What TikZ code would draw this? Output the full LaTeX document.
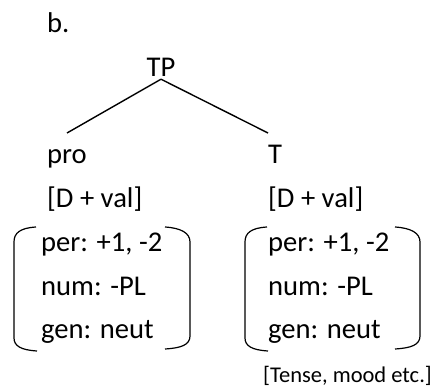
\documentclass[tikz,border=0pt]{standalone}
\usepackage{fontspec}
\setmainfont{Carlito}

\begin{document}
\begin{tikzpicture}[x=1pt, y=-1pt,
    every node/.style={inner sep=0pt, font=\fontsize{28.6}{34}\selectfont},
    lbl/.style={anchor=base west},
    branch/.style={line width=1.4pt},
    brack/.style={line width=1.2pt}]
\useasboundingbox (0,0) rectangle (447,387);
% parameters
\def\linesep{43}
% label and root
\node[lbl] (b) at (47,33) {b.};
\node[anchor=base] (TP) at (161,77) {TP};
% the two daughters, their features and brackets
\foreach \name/\x/\fx/\l/\r in {pro/47/41/14/190, T/268/268/245/420} {
    \node[lbl] (\name) at (\x,164) {\name};
    \node[lbl] (\name-val) at (\x,208) {[D + val]};
    \node[lbl] (\name-per) at (\fx,252) {per: +1, -2};
    \node[lbl] (\name-num) at (\fx,252+\linesep) {num: -PL};
    \node[lbl] (\name-gen) at (\fx,252+2*\linesep) {gen: neut};
    \draw[brack] (\l+22,227) .. controls (\l+6,228) and (\l,233) .. (\l,242) -- (\l,338) .. controls (\l,346) and (\l+7,350) .. (\l+23,351);
    \draw[brack] (\r-25,227) .. controls (\r-9,228) and (\r,233) .. (\r,242) -- (\r,336) .. controls (\r,345) and (\r-9,348) .. (\r-25,349);
}
% branches
\draw[branch] ([yshift=-2pt]TP.south) -- ([yshift=31pt]pro.base);
\draw[branch] ([yshift=-2pt]TP.south) -- ([yshift=31pt]T.base west);
% extra note
\node[lbl, font=\fontsize{22.5}{26}\selectfont] (tense) at (263,382) {[Tense, mood etc.]};
\end{tikzpicture}
\end{document}
